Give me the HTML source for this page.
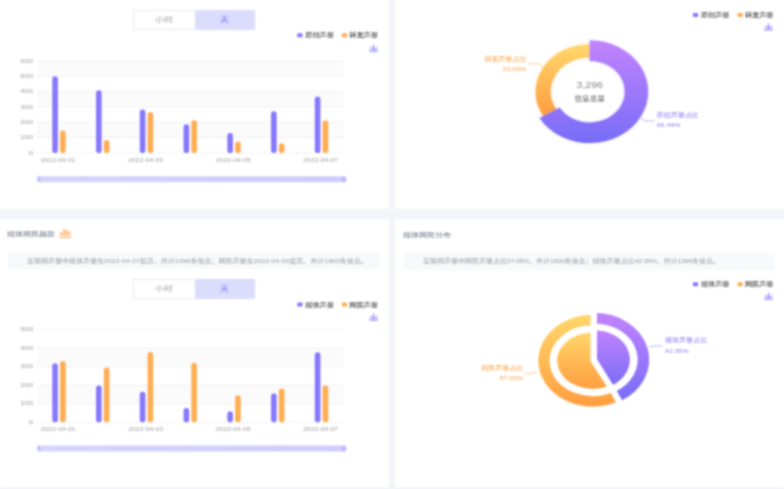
<!DOCTYPE html>
<html lang="zh-CN"><head><meta charset="utf-8"><title>声量分析</title>
<style>
html,body{margin:0;padding:0}
body{width:784px;height:489px;background:#f4f5f9;position:relative;overflow:hidden;font-family:"Liberation Sans","Noto Sans CJK SC",sans-serif}
#wrap{position:absolute;left:0;top:0;width:784px;height:489px;background:#f4f5f9;filter:url(#bf)}
.card{position:absolute;background:#fff;border-radius:2px}
.tg{position:absolute;left:133px;width:122px;height:20px;display:flex;font-size:7px;line-height:20px}
.tg div{flex:1;text-align:center}
.tg span{display:inline-block;transform:scaleX(1.27)}
.s{display:inline-block;transform-origin:0 50%}
.t1{color:#a0a0a0;background:#fff;box-sizing:border-box;border:1px solid #e7e7fc;border-right:none;line-height:18px}
.t2{color:#7370f4;background:#dcdcfd}
.title{position:absolute;font-size:6px;color:#6c7186;line-height:10px;white-space:nowrap}
.desc{position:absolute;background:#f8f9fb;font-size:6px;color:#9a9a9a;line-height:17px;white-space:nowrap;box-sizing:border-box}
svg{position:absolute;left:0;top:0}
.n{letter-spacing:-0.25px}
.ax,.ay{font-size:5.3px;fill:#a0a0a0}
.lg{font-size:5.5px;fill:#383838;stroke:#383838;stroke-width:0.06px}
.big{font-size:9.2px;fill:#858585}
.ctr{font-size:6.4px;fill:#555}
.lo{font-size:6.1px;fill:#ffa448}
.lp{font-size:6.1px;fill:#8a7ef8}
</style></head><body>
<svg width="0" height="0" style="position:absolute"><filter id="bf" x="0" y="0" width="100%" height="100%" color-interpolation-filters="sRGB"><feConvolveMatrix order="5" kernelMatrix="0.00212 0.01118 0.01946 0.01118 0.00212 0.01118 0.05892 0.10253 0.05892 0.01118 0.01946 0.10253 0.17843 0.10253 0.01946 0.01118 0.05892 0.10253 0.05892 0.01118 0.00212 0.01118 0.01946 0.01118 0.00212" edgeMode="duplicate"/></filter></svg>
<div id="wrap">
<div class="card" style="left:0;top:0;width:388.9px;height:209px"></div>
<div class="card" style="left:395.2px;top:0;width:388.8px;height:209px"></div>
<div class="card" style="left:0;top:219px;width:388.9px;height:267.5px"></div>
<div class="card" style="left:395.2px;top:219px;width:388.8px;height:267.5px"></div>
<div class="tg" style="top:9.6px"><div class="t1"><span>小时</span></div><div class="t2"><span>天</span></div></div>
<div class="tg" style="top:278.6px"><div class="t1"><span>小时</span></div><div class="t2"><span>天</span></div></div>
<div class="title" style="left:7px;top:229px"><span class="s" style="transform:scaleX(1.333)">媒体网民趋势</span></div>
<svg style="left:59px;top:228px" width="13" height="11" viewBox="0 0 13 11"><g fill="#ffbd7c"><rect x="1.2" y="4" width="2.1" height="3.8"/><rect x="4.0" y="1.3" width="2.1" height="6.5"/><rect x="6.8" y="1.9" width="2.1" height="5.9"/><rect x="9.7" y="3.4" width="1.8" height="4.4"/></g><rect x="0.2" y="9" width="11.8" height="1" fill="#ffa44c"/></svg>
<div class="desc" style="left:8px;top:252.6px;width:372px;height:16.6px;padding-left:18.8px;line-height:16.6px"><span class="s" style="transform:scaleX(1.167)">互联网声量中媒体声量在2022-04-07最高，共计1396条信息；网民声量在2022-04-03最高，共计1900条信息。</span></div>
<div class="title" style="left:402.7px;top:229.7px"><span class="s" style="transform:scaleX(1.333)">媒体网民分布</span></div>
<div class="desc" style="left:404px;top:253px;width:371px;height:16.5px;padding-left:19px"><span class="s" style="transform:scaleX(1.167)">互联网声量中网民声量占比<span class="n">57.65%</span>，共计<span class="n">1900</span>条信息；媒体声量占比<span class="n">42.35%</span>，共计<span class="n">1396</span>条信息。</span></div>
<svg width="784" height="489" viewBox="0 0 784 489">
<defs>
<linearGradient id="gp" x1="0" y1="0" x2="0" y2="1"><stop offset="0" stop-color="#c383fd"/><stop offset="1" stop-color="#776cf7"/></linearGradient>
<linearGradient id="go" x1="0" y1="0" x2="0" y2="1"><stop offset="0" stop-color="#ffd86c"/><stop offset="1" stop-color="#ff9c3e"/></linearGradient>
<linearGradient id="sl" x1="0" y1="0" x2="1" y2="0"><stop offset="0" stop-color="#d6d4fd"/><stop offset="1" stop-color="#cfcbfc"/></linearGradient>
<filter id="shp" x="-30%" y="-30%" width="160%" height="160%"><feDropShadow dx="0" dy="0" stdDeviation="1.8" flood-color="#8677fd" flood-opacity="0.28"/></filter>
<filter id="sho" x="-30%" y="-30%" width="160%" height="160%"><feDropShadow dx="0" dy="0" stdDeviation="1.8" flood-color="#ffad52" flood-opacity="0.28"/></filter>
</defs>
<rect x="37.1" y="122.33" width="306.30" height="15.33" fill="#fbfbfb"/>
<rect x="37.1" y="91.67" width="306.30" height="15.33" fill="#fbfbfb"/>
<rect x="37.1" y="61.00" width="306.30" height="15.33" fill="#fbfbfb"/>
<line x1="37.1" y1="153.00" x2="343.4" y2="153.00" stroke="#efeff2" stroke-width="0.8"/>
<text transform="translate(33.00,154.50) scale(1.45,1)" text-anchor="end" class="ay">0</text>
<line x1="37.1" y1="137.67" x2="343.4" y2="137.67" stroke="#efeff2" stroke-width="0.8"/>
<text transform="translate(33.00,139.17) scale(1.45,1)" text-anchor="end" class="ay">100</text>
<line x1="37.1" y1="122.33" x2="343.4" y2="122.33" stroke="#efeff2" stroke-width="0.8"/>
<text transform="translate(33.00,123.83) scale(1.45,1)" text-anchor="end" class="ay">200</text>
<line x1="37.1" y1="107.00" x2="343.4" y2="107.00" stroke="#efeff2" stroke-width="0.8"/>
<text transform="translate(33.00,108.50) scale(1.45,1)" text-anchor="end" class="ay">300</text>
<line x1="37.1" y1="91.67" x2="343.4" y2="91.67" stroke="#efeff2" stroke-width="0.8"/>
<text transform="translate(33.00,93.17) scale(1.45,1)" text-anchor="end" class="ay">400</text>
<line x1="37.1" y1="76.33" x2="343.4" y2="76.33" stroke="#efeff2" stroke-width="0.8"/>
<text transform="translate(33.00,77.83) scale(1.45,1)" text-anchor="end" class="ay">500</text>
<line x1="37.1" y1="61.00" x2="343.4" y2="61.00" stroke="#efeff2" stroke-width="0.8"/>
<text transform="translate(33.00,62.50) scale(1.45,1)" text-anchor="end" class="ay">600</text>
<rect x="52.28" y="76.33" width="5.6" height="76.67" rx="2.8" fill="#8677fd"/>
<rect x="60.08" y="130.46" width="5.6" height="22.54" rx="2.8" fill="#ffad52"/>
<text transform="translate(58.18,162.25) scale(1.287,1)" text-anchor="middle" class="ax">2022-04-01</text>
<rect x="96.04" y="90.13" width="5.6" height="62.87" rx="2.8" fill="#8677fd"/>
<rect x="103.84" y="139.97" width="5.6" height="13.03" rx="2.8" fill="#ffad52"/>
<rect x="139.79" y="109.61" width="5.6" height="43.39" rx="2.8" fill="#8677fd"/>
<rect x="147.59" y="112.06" width="5.6" height="40.94" rx="2.8" fill="#ffad52"/>
<text transform="translate(145.69,162.25) scale(1.287,1)" text-anchor="middle" class="ax">2022-04-03</text>
<rect x="183.55" y="124.33" width="5.6" height="28.67" rx="2.8" fill="#8677fd"/>
<rect x="191.35" y="120.34" width="5.6" height="32.66" rx="2.8" fill="#ffad52"/>
<rect x="227.31" y="133.07" width="5.6" height="19.93" rx="2.8" fill="#8677fd"/>
<rect x="235.11" y="141.50" width="5.6" height="11.50" rx="2.8" fill="#ffad52"/>
<text transform="translate(233.21,162.25) scale(1.287,1)" text-anchor="middle" class="ax">2022-04-05</text>
<rect x="271.06" y="111.29" width="5.6" height="41.71" rx="2.8" fill="#8677fd"/>
<rect x="278.86" y="143.34" width="5.6" height="9.66" rx="2.8" fill="#ffad52"/>
<rect x="314.82" y="96.57" width="5.6" height="56.43" rx="2.8" fill="#8677fd"/>
<rect x="322.62" y="120.34" width="5.6" height="32.66" rx="2.8" fill="#ffad52"/>
<text transform="translate(320.72,162.25) scale(1.287,1)" text-anchor="middle" class="ax">2022-04-07</text>
<rect x="36.8" y="176.30" width="308" height="6" rx="1" fill="url(#sl)"/>
<rect x="38.6" y="176.50" width="1.6" height="5.6" rx="0.8" fill="#bab3fb"/>
<rect x="341.8" y="176.20" width="4.6" height="6.2" rx="2.3" fill="#c0b9fc"/>
<rect x="297.30" y="33.30" width="5.2" height="4.0" rx="0.9" fill="#8677fd"/>
<text transform="translate(305.30,37.30) scale(1.3,1)" class="lg">原创声量</text>
<rect x="341.90" y="33.30" width="5.2" height="4.0" rx="0.9" fill="#ffad52"/>
<text transform="translate(349.30,37.30) scale(1.3,1)" class="lg">转发声量</text>
<path d="M370.00,47.21 L373.64,49.78 L377.41,47.26 M369.98,49.56 L369.98,51.20 L377.28,51.20 L377.28,49.56 M373.63,49.73 L373.63,44.60" fill="none" stroke="#7d72f7" stroke-width="1.0"/>
<rect x="37.1" y="385.20" width="306.30" height="18.50" fill="#fbfbfb"/>
<rect x="37.1" y="348.20" width="306.30" height="18.50" fill="#fbfbfb"/>
<line x1="37.1" y1="422.20" x2="343.4" y2="422.20" stroke="#efeff2" stroke-width="0.8"/>
<text transform="translate(33.00,423.70) scale(1.45,1)" text-anchor="end" class="ay">0</text>
<line x1="37.1" y1="403.70" x2="343.4" y2="403.70" stroke="#efeff2" stroke-width="0.8"/>
<text transform="translate(33.00,405.20) scale(1.45,1)" text-anchor="end" class="ay">100</text>
<line x1="37.1" y1="385.20" x2="343.4" y2="385.20" stroke="#efeff2" stroke-width="0.8"/>
<text transform="translate(33.00,386.70) scale(1.45,1)" text-anchor="end" class="ay">200</text>
<line x1="37.1" y1="366.70" x2="343.4" y2="366.70" stroke="#efeff2" stroke-width="0.8"/>
<text transform="translate(33.00,368.20) scale(1.45,1)" text-anchor="end" class="ay">300</text>
<line x1="37.1" y1="348.20" x2="343.4" y2="348.20" stroke="#efeff2" stroke-width="0.8"/>
<text transform="translate(33.00,349.70) scale(1.45,1)" text-anchor="end" class="ay">400</text>
<line x1="37.1" y1="329.70" x2="343.4" y2="329.70" stroke="#efeff2" stroke-width="0.8"/>
<text transform="translate(33.00,331.20) scale(1.45,1)" text-anchor="end" class="ay">500</text>
<rect x="52.28" y="363.37" width="5.6" height="58.83" rx="2.8" fill="#8677fd"/>
<rect x="60.08" y="360.96" width="5.6" height="61.23" rx="2.8" fill="#ffad52"/>
<text transform="translate(58.18,431.45) scale(1.287,1)" text-anchor="middle" class="ax">2022-04-01</text>
<rect x="96.04" y="385.38" width="5.6" height="36.81" rx="2.8" fill="#8677fd"/>
<rect x="103.84" y="367.62" width="5.6" height="54.58" rx="2.8" fill="#ffad52"/>
<rect x="139.79" y="391.68" width="5.6" height="30.52" rx="2.8" fill="#8677fd"/>
<rect x="147.59" y="351.90" width="5.6" height="70.30" rx="2.8" fill="#ffad52"/>
<text transform="translate(145.69,431.45) scale(1.287,1)" text-anchor="middle" class="ax">2022-04-03</text>
<rect x="183.55" y="407.95" width="5.6" height="14.25" rx="2.8" fill="#8677fd"/>
<rect x="191.35" y="362.63" width="5.6" height="59.57" rx="2.8" fill="#ffad52"/>
<rect x="227.31" y="411.28" width="5.6" height="10.91" rx="2.8" fill="#8677fd"/>
<rect x="235.11" y="395.19" width="5.6" height="27.01" rx="2.8" fill="#ffad52"/>
<text transform="translate(233.21,431.45) scale(1.287,1)" text-anchor="middle" class="ax">2022-04-05</text>
<rect x="271.06" y="393.52" width="5.6" height="28.68" rx="2.8" fill="#8677fd"/>
<rect x="278.86" y="388.53" width="5.6" height="33.67" rx="2.8" fill="#ffad52"/>
<rect x="314.82" y="352.27" width="5.6" height="69.93" rx="2.8" fill="#8677fd"/>
<rect x="322.62" y="385.38" width="5.6" height="36.81" rx="2.8" fill="#ffad52"/>
<text transform="translate(320.72,431.45) scale(1.287,1)" text-anchor="middle" class="ax">2022-04-07</text>
<rect x="36.8" y="445.50" width="308" height="6" rx="1" fill="url(#sl)"/>
<rect x="38.6" y="445.70" width="1.6" height="5.6" rx="0.8" fill="#bab3fb"/>
<rect x="341.8" y="445.40" width="4.6" height="6.2" rx="2.3" fill="#c0b9fc"/>
<rect x="297.30" y="302.60" width="5.2" height="4.0" rx="0.9" fill="#8677fd"/>
<text transform="translate(305.30,306.60) scale(1.3,1)" class="lg">媒体声量</text>
<rect x="341.90" y="302.60" width="5.2" height="4.0" rx="0.9" fill="#ffad52"/>
<text transform="translate(349.30,306.60) scale(1.3,1)" class="lg">网民声量</text>
<path d="M370.00,316.21 L373.64,318.78 L377.41,316.26 M369.98,318.56 L369.98,320.20 L377.28,320.20 L377.28,318.56 M373.63,318.73 L373.63,313.60" fill="none" stroke="#7d72f7" stroke-width="1.0"/>
<rect x="692.90" y="12.90" width="5.2" height="4.0" rx="0.9" fill="#8677fd"/>
<text transform="translate(700.90,16.90) scale(1.3,1)" class="lg">原创声量</text>
<rect x="737.50" y="12.90" width="5.2" height="4.0" rx="0.9" fill="#ffad52"/>
<text transform="translate(744.90,16.90) scale(1.3,1)" class="lg">转发声量</text>
<path d="M764.90,25.91 L768.54,28.48 L772.31,25.96 M764.88,28.26 L764.88,29.90 L772.18,29.90 L772.18,28.26 M768.53,28.43 L768.53,23.30" fill="none" stroke="#7d72f7" stroke-width="1.0"/>
<path d="M543.27,116.06 A54.06,47.55 0 0 1 589.70,44.15 L589.70,57.40 A39.00,34.30 0 0 0 556.21,109.27 Z" fill="url(#go)" filter="url(#sho)"/>
<path d="M589.70,40.30 A58.44,51.40 0 1 1 539.51,118.03 L559.62,107.48 A35.02,30.80 0 1 0 589.70,60.90 Z" fill="url(#gp)" filter="url(#shp)"/>
<text transform="translate(589.70,88.30) scale(1.14,1)" text-anchor="middle" class="big">3,296</text>
<text transform="translate(589.70,100.60) scale(1.19,1)" text-anchor="middle" class="ctr">信息总量</text>
<text transform="translate(526.30,60.70) scale(1.148,1)" text-anchor="end" class="lo">转发声量占比</text>
<text transform="translate(526.30,70.90) scale(1.148,1)" text-anchor="end" class="lo">33.56%</text>
<path d="M528.2,63.9 L539.4,63.9 L543,67.2" fill="none" stroke="#ffc27a" stroke-width="0.8"/>
<text transform="translate(656.70,117.20) scale(1.148,1)" class="lp">原创声量占比</text>
<text transform="translate(656.70,127.40) scale(1.148,1)" class="lp">66.44%</text>
<path d="M640.7,118.4 L644.8,120.9 L654.5,120.9" fill="none" stroke="#a99ffa" stroke-width="0.8"/>
<rect x="692.90" y="282.20" width="5.2" height="4.0" rx="0.9" fill="#8677fd"/>
<text transform="translate(700.90,286.20) scale(1.3,1)" class="lg">媒体声量</text>
<rect x="737.50" y="282.20" width="5.2" height="4.0" rx="0.9" fill="#ffad52"/>
<text transform="translate(744.90,286.20) scale(1.3,1)" class="lg">网民声量</text>
<path d="M764.90,295.21 L768.54,297.78 L772.31,295.26 M764.88,297.56 L764.88,299.20 L772.18,299.20 L772.18,297.56 M768.53,297.73 L768.53,292.60" fill="none" stroke="#7d72f7" stroke-width="1.0"/>
<path d="M619.45,403.57 A57.20,48.35 0 1 1 593.00,312.35 L593.00,327.80 A40.90,32.90 0 1 0 611.91,389.87 Z" fill="url(#go)" stroke="#fff" stroke-width="5.0" stroke-linejoin="round"/>
<path d="M593.00,360.70 L610.71,387.92 A38.30,30.70 0 1 1 593.00,330.00 Z" fill="url(#go)" stroke="#fff" stroke-width="5.0" stroke-linejoin="round"/>
<path d="M594.50,310.30 A57.20,49.40 0 0 1 620.95,403.50 L613.32,389.67 A40.70,33.80 0 0 0 594.50,325.90 Z" fill="url(#gp)" stroke="#fff" stroke-width="5.0" stroke-linejoin="round"/>
<path d="M594.50,359.70 L594.50,327.70 A37.90,32.00 0 0 1 612.02,388.07 Z" fill="url(#gp)" stroke="#fff" stroke-width="5.0" stroke-linejoin="round"/>
<text transform="translate(523.10,369.80) scale(1.148,1)" text-anchor="end" class="lo">网民声量占比</text>
<text transform="translate(523.10,379.50) scale(1.148,1)" text-anchor="end" class="lo">57.65%</text>
<path d="M524,373.5 L531,373.2 L537.3,372" fill="none" stroke="#ffc27a" stroke-width="0.8"/>
<text transform="translate(665.00,342.30) scale(1.148,1)" class="lp">媒体声量占比</text>
<text transform="translate(665.00,352.50) scale(1.148,1)" class="lp">42.35%</text>
<path d="M649.2,347 L655,346 L662.4,346" fill="none" stroke="#a99ffa" stroke-width="0.8"/>
</svg>
</div>
</body></html>
